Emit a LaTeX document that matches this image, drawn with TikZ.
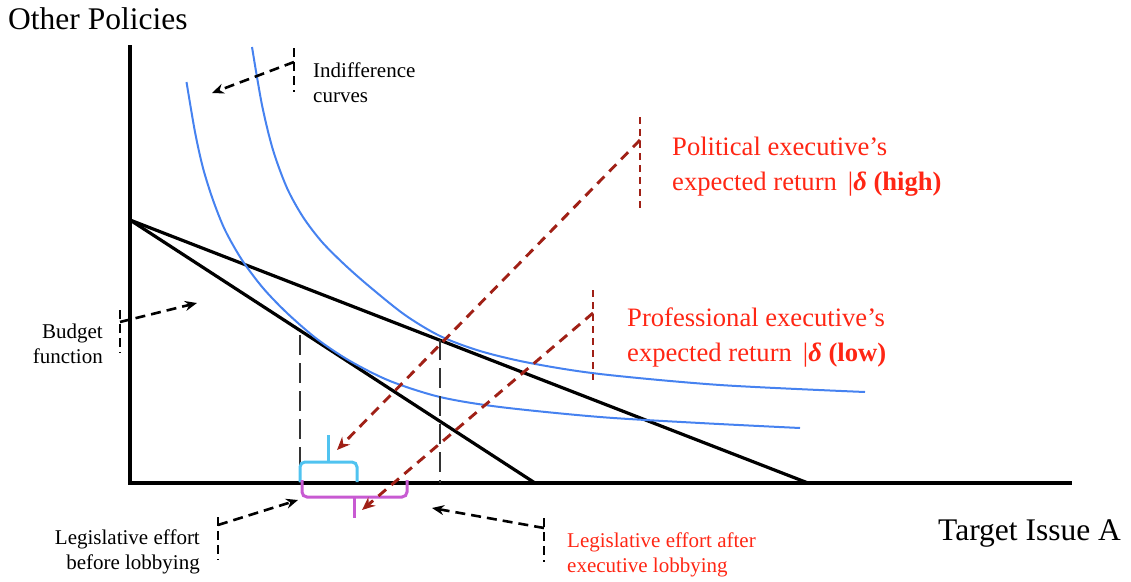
\documentclass[tikz,border=0pt]{standalone}
\usepackage{fontspec}
\setmainfont{Liberation Serif}
\usetikzlibrary{arrows.meta}
\definecolor{redtext}{RGB}{255,38,20}
\definecolor{darkred}{RGB}{160,32,22}
\definecolor{curveblue}{RGB}{70,130,240}
\definecolor{bracecyan}{RGB}{80,195,240}
\definecolor{bracemag}{RGB}{200,90,210}
\begin{document}
\begin{tikzpicture}[x=1pt,y=-1pt,
  axis/.style={line width=4pt},
  budget/.style={line width=3.2pt},
  indiff/.style={curveblue,line width=2pt},
  blackarrow/.style={line width=2.6pt,dash pattern=on 10pt off 6pt,-{Stealth[length=12pt,width=10pt]}},
  blacktick/.style={line width=2.5pt,dash pattern=on 9pt off 5pt},
  droparrow/.style={darkred,line width=2.9pt,dash pattern=on 10pt off 7pt,-{Stealth[length=13pt,width=11pt]}},
  droptick/.style={darkred,line width=2.5pt,dash pattern=on 7pt off 5pt},
  guide/.style={black!80,line width=2.5pt,dash pattern=on 20pt off 8pt},
  brace/.style={line width=3pt,rounded corners=5pt},
  small/.style={font=\rmfamily\fontsize{21}{24.5}\selectfont,inner sep=0pt,align=left},
  big/.style={font=\rmfamily\fontsize{31.5}{36}\selectfont,inner sep=0pt},
  redbig/.style={redtext,font=\rmfamily\fontsize{26.6}{35}\selectfont,inner sep=0pt,align=left}]
\useasboundingbox (0,0) rectangle (1131,581);

% axes
\coordinate (O) at (130,483);
\coordinate (ytop) at (130,45);
\coordinate (xend) at (1072,483);
\draw[axis] (ytop) -- (O) -- (xend);

% budget lines
\coordinate (B0) at (130,220);
\coordinate (B1) at (535,483);
\coordinate (B2) at (808,483);
\draw[budget] (B0) -- (B1);
\draw[budget] (B0) -- (B2);

% indifference curves
\draw[indiff] plot[smooth,tension=0.5] coordinates {(186.5,82) (195,132) (203,168) (213,200) (225,230) (242,260) (263,288) (287,313) (317,339) (350,361) (390,381) (440,397) (500,407) (600,417) (700,423) (800,428)};
\draw[indiff] plot[smooth,tension=0.5] coordinates {(252,47) (262,105) (273,150) (287,188) (303,217) (322,242) (345,265) (370,287) (405,315) (440,336) (480,351) (530,363) (600,374) (720,385) (865,392)};

% guide lines to the axis
\coordinate (g1t) at (300,335);
\coordinate (g1b) at (300,483);
\coordinate (g2t) at (440,340);
\coordinate (g2b) at (440,483);
\draw[guide] (g1t) -- (g1b);
\draw[guide] (g2t) -- (g2b);

% braces
\coordinate (c1) at (300,482);
\coordinate (c2) at (357,482);
\coordinate (ctip) at (328,435);
\draw[brace,bracecyan] (c1) -- (300,462) -- (357,462) -- (c2);
\draw[bracecyan,line width=3pt] (328,462) -- (ctip);
\coordinate (m1) at (302,480);
\coordinate (m2) at (407,480);
\coordinate (mtip) at (354,518);
\draw[brace,bracemag] (m1) -- (302,497) -- (407,497) -- (m2);
\draw[bracemag,line width=3pt] (354,497) -- (mtip);

% red dashed arrows
\coordinate (p1a) at (640,117);
\coordinate (p1b) at (640,208);
\coordinate (p1s) at (640,140);
\coordinate (p1e) at (337,450);
\draw[droptick] (p1a) -- (p1b);
\draw[droparrow] (p1s) -- (p1e);
\coordinate (p2a) at (593,290);
\coordinate (p2b) at (593,380);
\coordinate (p2s) at (593,313);
\coordinate (p2e) at (362,510);
\draw[droptick] (p2a) -- (p2b);
\draw[droparrow] (p2s) -- (p2e);

% black dashed arrows and ticks
\coordinate (i1) at (294,48);
\coordinate (i2) at (294,92);
\coordinate (is) at (294,62);
\coordinate (ie) at (212,93);
\draw[blacktick] (i1) -- (i2);
\draw[blackarrow] (is) -- (ie);

\coordinate (bf1) at (120,310);
\coordinate (bf2) at (120,353);
\coordinate (bfs) at (120,322);
\coordinate (bfe) at (197,303);
\draw[blacktick] (bf1) -- (bf2);
\draw[blackarrow] (bfs) -- (bfe);

\coordinate (lb1) at (218,517);
\coordinate (lb2) at (218,560);
\coordinate (lbs) at (218,525);
\coordinate (lbe) at (298,500);
\draw[blacktick] (lb1) -- (lb2);
\draw[blackarrow] (lbs) -- (lbe);

\coordinate (la1) at (544,518);
\coordinate (la2) at (544,562);
\coordinate (las) at (544,528);
\coordinate (lae) at (432,508);
\draw[blacktick] (la1) -- (la2);
\draw[blackarrow] (las) -- (lae);

% labels (base anchor = baseline of the last line)
\node[big,anchor=base west] (ylab) at (8,29) {Other Policies};
\node[big,anchor=base west] (xlab) at (938,540) {Target Issue A};
\node[small,anchor=base west] (indlab) at (313,102) {Indifference\\curves};
\node[small,anchor=base east,align=right] (budlab) at (103,363) {Budget\\function};
\node[small,anchor=base east,align=right] (beflab) at (200,569) {Legislative effort\\before lobbying};
\node[small,anchor=base west,text=redtext] (aftlab) at (567,572) {Legislative effort after\\executive lobbying};
\node[redbig,anchor=base west] (pollab) at (672,190) {Political executive’s\\expected return \,|{\bfseries\itshape δ} \textbf{(high)}};
\node[redbig,anchor=base west] (prolab) at (627,361) {Professional executive’s\\expected return \,|{\bfseries\itshape δ} \textbf{(low)}};
\end{tikzpicture}
\end{document}
